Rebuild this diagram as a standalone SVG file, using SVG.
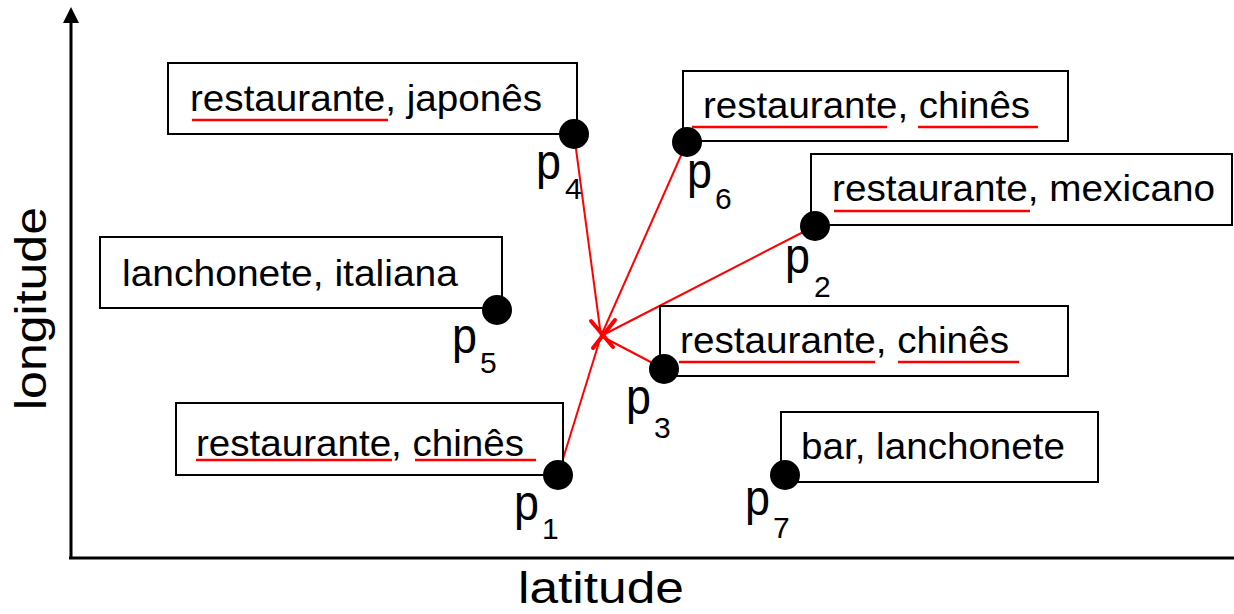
<svg xmlns="http://www.w3.org/2000/svg" width="1234" height="614" viewBox="0 0 1234 614">
  <style>
    .box { fill: #fff; stroke: #000; stroke-width: 2; }
    .txt { font-family: "Liberation Sans", Arial, sans-serif; font-size: 36px; fill: #000; }
    .ul { stroke: #f00; stroke-width: 2.5; fill: none; }
    .dot { fill: #000; }
    .pl { font-family: "Liberation Sans", Arial, sans-serif; font-size: 50px; fill: #000; }
    .sub { font-family: "Liberation Sans", Arial, sans-serif; font-size: 30px; fill: #000; }
    .axis { stroke: #000; stroke-width: 3; fill: none; }
    .axlbl { font-family: "Liberation Sans", Arial, sans-serif; font-size: 44px; fill: #000; }
    .link { stroke: #f00; stroke-width: 2; fill: none; }
    .xmark { stroke: #f00; stroke-width: 4; fill: none; stroke-linecap: round; }
  </style>

  <!-- axes -->
  <g id="axes">
    <line class="axis" x1="71" y1="20" x2="71" y2="559"/>
    <polygon points="71,7 63,23 79,23" fill="#000"/>
    <line class="axis" x1="69" y1="558" x2="1234" y2="558"/>
    <text class="axlbl" x="518" y="603" textLength="166" lengthAdjust="spacingAndGlyphs">latitude</text>
    <text class="axlbl" transform="translate(46,410) rotate(-90)" textLength="203" lengthAdjust="spacingAndGlyphs">longitude</text>
  </g>

  <!-- connectors to the query point -->
  <g id="connectors">
    <line class="link" x1="601" y1="336" x2="574" y2="134"/>
    <line class="link" x1="601" y1="336" x2="687" y2="142"/>
    <line class="link" x1="601" y1="336" x2="815" y2="226"/>
    <line class="link" x1="601" y1="336" x2="664" y2="369"/>
    <line class="link" x1="601" y1="336" x2="558" y2="475"/>
    <line class="xmark" x1="591" y1="321" x2="613" y2="347"/>
    <line class="xmark" x1="615" y1="320" x2="593" y2="348"/>
  </g>

  <g id="p4">
    <rect class="box" x="168" y="63" width="409" height="71"/>
    <text class="txt" x="190" y="111" textLength="352" lengthAdjust="spacingAndGlyphs">restaurante, japonês</text>
    <line class="ul" x1="192" y1="120" x2="388" y2="120"/>
    <circle class="dot" cx="574" cy="134" r="15"/>
    <text class="pl" x="536" y="179" textLength="25" lengthAdjust="spacingAndGlyphs">p</text>
    <text class="sub" x="565" y="199">4</text>
  </g>

  <g id="p6">
    <rect class="box" x="683" y="71" width="385" height="70"/>
    <text class="txt" x="703" y="118" textLength="327" lengthAdjust="spacingAndGlyphs">restaurante, chinês</text>
    <line class="ul" x1="692" y1="127" x2="887" y2="127"/>
    <line class="ul" x1="918" y1="127" x2="1038" y2="127"/>
    <circle class="dot" cx="687" cy="142" r="15"/>
    <text class="pl" x="687" y="188" textLength="25" lengthAdjust="spacingAndGlyphs">p</text>
    <text class="sub" x="715" y="209">6</text>
  </g>

  <g id="p2">
    <rect class="box" x="811" y="154" width="421" height="71"/>
    <text class="txt" x="832" y="201" textLength="383" lengthAdjust="spacingAndGlyphs">restaurante, mexicano</text>
    <line class="ul" x1="834" y1="211" x2="1030" y2="211"/>
    <circle class="dot" cx="815" cy="226" r="15"/>
    <text class="pl" x="785" y="273" textLength="25" lengthAdjust="spacingAndGlyphs">p</text>
    <text class="sub" x="814" y="297">2</text>
  </g>

  <g id="p5">
    <rect class="box" x="100" y="237" width="402" height="71"/>
    <text class="txt" x="122" y="286" textLength="336" lengthAdjust="spacingAndGlyphs">lanchonete, italiana</text>
    <circle class="dot" cx="497" cy="310" r="15"/>
    <text class="pl" x="452" y="353" textLength="25" lengthAdjust="spacingAndGlyphs">p</text>
    <text class="sub" x="480" y="373">5</text>
  </g>

  <g id="p3">
    <rect class="box" x="660" y="306" width="408" height="70"/>
    <text class="txt" x="680" y="353" textLength="329" lengthAdjust="spacingAndGlyphs">restaurante, chinês</text>
    <line class="ul" x1="679" y1="362" x2="875" y2="362"/>
    <line class="ul" x1="898" y1="362" x2="1019" y2="362"/>
    <circle class="dot" cx="664" cy="369" r="15"/>
    <text class="pl" x="626" y="414" textLength="25" lengthAdjust="spacingAndGlyphs">p</text>
    <text class="sub" x="654" y="438">3</text>
  </g>

  <g id="p1">
    <rect class="box" x="176" y="403" width="387" height="72"/>
    <text class="txt" x="196" y="456" textLength="328" lengthAdjust="spacingAndGlyphs">restaurante, chinês</text>
    <line class="ul" x1="196" y1="460" x2="392" y2="460"/>
    <line class="ul" x1="415" y1="460" x2="536" y2="460"/>
    <circle class="dot" cx="558" cy="475" r="15"/>
    <text class="pl" x="514" y="520" textLength="25" lengthAdjust="spacingAndGlyphs">p</text>
    <text class="sub" x="542" y="539">1</text>
  </g>

  <g id="p7">
    <rect class="box" x="781" y="412" width="317" height="70"/>
    <text class="txt" x="801" y="459" textLength="264" lengthAdjust="spacingAndGlyphs">bar, lanchonete</text>
    <circle class="dot" cx="785" cy="475" r="15"/>
    <text class="pl" x="745" y="515" textLength="25" lengthAdjust="spacingAndGlyphs">p</text>
    <text class="sub" x="773" y="538">7</text>
  </g>
</svg>
